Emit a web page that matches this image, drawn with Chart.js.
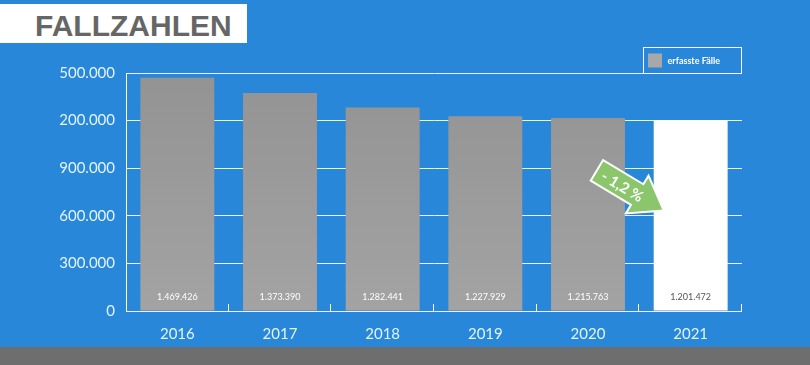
<!DOCTYPE html>
<html lang="de">
<head>
    <meta charset="UTF-8">
    <title>Fallzahlen</title>
    <script src="https://cdn.jsdelivr.net/npm/chart.js"></script>
    <style>
        body {
            margin: 0;
            width: 810px;
            height: 365px;
            background: #2887d8;
            overflow: hidden;
            position: relative;
            font-family: Lato, sans-serif;
        }
        #title {
            position: absolute;
            left: 0;
            top: 4px;
            width: 247px;
            height: 34px;
            padding-top: 5px;
            background: #fff;
            font: bold 30px "Liberation Sans", Arial, sans-serif;
            line-height: 34px;
            color: #666;
        }
        #title span {
            position: absolute;
            left: 35px;
        }
        #chart-container {
            position: absolute;
            left: 0;
            top: 0;
            width: 810px;
            height: 347px;
        }
        #footer {
            position: absolute;
            left: 0;
            top: 347px;
            width: 810px;
            height: 18px;
            background: #6e6e6e;
        }
    </style>
</head>
<body>
    <div id="title"><span>FALLZAHLEN</span></div>
    <div id="chart-container">
        <canvas id="myChart"></canvas>
    </div>
    <div id="footer"></div>

    <script>
        // chart data
        const years = ['2016', '2017', '2018', '2019', '2020', '2021'];
        const cases = [1469426, 1373390, 1282441, 1227929, 1215763, 1201472];
        const barColors = ['#9a9a9a', '#9a9a9a', '#9a9a9a', '#9a9a9a', '#9a9a9a', '#ffffff'];
        const yTickLabels = ['0', '300.000', '600.000', '900.000', '200.000', '500.000'];
        const seriesLabel = 'erfasste Fälle';
        const changeLabel = '- 1,2 %';

        const lightText = '#e2f4ff';

        function formatNumber(n) {
            return String(n).replace(/\B(?=(\d{3})+(?!\d))/g, '.');
        }

        // values written near the bottom of each bar
        const valueLabels = {
            id: 'valueLabels',
            afterDatasetsDraw(chart) {
                const ctx = chart.ctx;
                const meta = chart.getDatasetMeta(0);
                const ys = chart.scales.y;
                ctx.save();
                ctx.font = '9px Lato, sans-serif';
                ctx.textAlign = 'center';
                ctx.textBaseline = 'middle';
                meta.data.forEach((bar, i) => {
                    ctx.fillStyle = barColors[i] === '#ffffff' ? '#555' : '#fff';
                    ctx.fillText(formatNumber(cases[i]), bar.x, ys.bottom - 14);
                });
                ctx.restore();
            }
        };

        // small upward tick marks between categories
        const categoryTicks = {
            id: 'categoryTicks',
            afterDraw(chart) {
                const ctx = chart.ctx;
                const xs = chart.scales.x;
                const n = years.length;
                ctx.save();
                ctx.strokeStyle = '#ffffff';
                ctx.lineWidth = 1;
                for (let i = 1; i <= n; i++) {
                    const x = Math.round(xs.left + i * xs.width / n) - 0.5;
                    ctx.beginPath();
                    ctx.moveTo(x, xs.top);
                    ctx.lineTo(x, xs.top - 7);
                    ctx.stroke();
                }
                ctx.restore();
            }
        };

        // legend box sitting on top of the plot frame
        const boxLegend = {
            id: 'boxLegend',
            afterDraw(chart) {
                const ctx = chart.ctx;
                const area = chart.chartArea;
                const w = 98, h = 26;
                const x = Math.round(area.right - w) - 0.5;
                const y = Math.round(area.top - h) + 0.5;
                ctx.save();
                ctx.strokeStyle = '#ffffff';
                ctx.lineWidth = 1;
                ctx.strokeRect(x, y, w, h);
                ctx.fillStyle = '#a8a8a8';
                ctx.fillRect(x + 4.5, y + 6, 14, 14);
                ctx.fillStyle = '#ffffff';
                ctx.font = 'bold 9px Lato, sans-serif';
                ctx.textBaseline = 'middle';
                ctx.fillText(seriesLabel, x + 24, y + 13.5);
                ctx.restore();
            }
        };

        // green change arrow between 2020 and 2021
        const changeArrow = {
            id: 'changeArrow',
            afterDraw(chart) {
                const ctx = chart.ctx;
                const xs = chart.scales.x, ys = chart.scales.y;
                const cx = (xs.getPixelForValue(4) + xs.getPixelForValue(5)) / 2 - 9;
                const cy = ys.getPixelForValue(760000);
                ctx.save();
                ctx.translate(cx, cy);
                ctx.rotate(31 * Math.PI / 180);
                ctx.beginPath();
                ctx.moveTo(-39, -12);
                ctx.lineTo(8, -12);
                ctx.lineTo(8, -22);
                ctx.lineTo(39, 0);
                ctx.lineTo(8, 22);
                ctx.lineTo(8, 12);
                ctx.lineTo(-39, 12);
                ctx.closePath();
                ctx.fillStyle = '#8cc66c';
                ctx.fill();
                ctx.strokeStyle = '#ffffff';
                ctx.lineWidth = 2;
                ctx.stroke();
                ctx.fillStyle = '#ffffff';
                ctx.font = 'bold 15px Lato, sans-serif';
                ctx.textAlign = 'center';
                ctx.textBaseline = 'middle';
                ctx.fillText(changeLabel, -9, 1);
                ctx.restore();
            }
        };

        const ctx = document.getElementById('myChart').getContext('2d');
        new Chart(ctx, {
            type: 'bar',
            data: {
                labels: years,
                datasets: [{
                    label: seriesLabel,
                    data: cases,
                    backgroundColor: (c) => {
                        const base = barColors[c.dataIndex];
                        const area = c.chart.chartArea;
                        if (base === '#ffffff' || !area) return base;
                        const g = c.chart.ctx.createLinearGradient(0, area.top, 0, area.bottom);
                        g.addColorStop(0, '#939393');
                        g.addColorStop(1, '#a3a3a3');
                        return g;
                    },
                    borderWidth: 0,
                    categoryPercentage: 1,
                    barPercentage: 0.72
                }]
            },
            options: {
                responsive: true,
                maintainAspectRatio: false,
                animation: false,
                layout: {
                    padding: { top: 73, right: 68, left: 0, bottom: 0 }
                },
                plugins: {
                    legend: { display: false },
                    tooltip: { enabled: false }
                },
                scales: {
                    x: {
                        grid: { display: false },
                        border: { display: false },
                        ticks: {
                            color: lightText,
                            font: { family: 'Lato', size: 15 },
                            padding: 6
                        },
                        afterFit: (scale) => { scale.height = 36; }
                    },
                    y: {
                        min: 0,
                        max: 1500000,
                        ticks: {
                            stepSize: 300000,
                            color: lightText,
                            font: { family: 'Lato', size: 15 },
                            padding: 11,
                            callback: (v, i) => yTickLabels[i]
                        },
                        grid: {
                            color: 'rgba(255,255,255,0.9)',
                            drawTicks: false
                        },
                        border: { display: true, color: '#ffffff' },
                        afterFit: (scale) => { scale.width = 126; }
                    }
                }
            },
            plugins: [valueLabels, categoryTicks, boxLegend, changeArrow]
        });
    </script>
</body>
</html>
